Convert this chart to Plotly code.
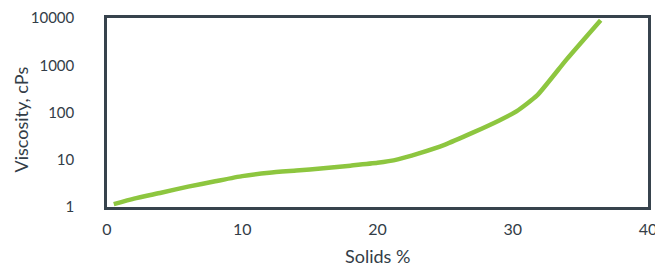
import plotly.graph_objects as go

solids = [0.5, 2, 4, 6, 8, 10, 12, 14, 16, 18, 20, 21.5, 23, 25, 27, 29, 30.3, 31.8, 34, 36.5]
viscosity = [1.15, 1.5, 2.0, 2.7, 3.5, 4.5, 5.3, 5.9, 6.6, 7.5, 8.6, 10.2, 13.5, 21, 37, 68, 107, 230, 1350, 9000]

x_ticks = [0, 10, 20, 30, 40]
y_ticks = [1, 10, 100, 1000, 10000]
y_tick_labels = ["1", "10", "100", "1000", "10000"]
x_title = "Solids %"
y_title = "Viscosity, cPs"

text_color = "#333d47"
frame_color = "#37434d"
font_family = "Lato, 'Open Sans', sans-serif"

fig = go.Figure()
fig.add_trace(go.Scatter(
    x=solids, y=viscosity, mode="lines",
    line=dict(color="#8dc63f", width=4.5, shape="spline", smoothing=0.5),
    showlegend=False, hoverinfo="skip",
))

# page body has an 8px default margin, so the figure is 8px smaller and shifted
fig.update_layout(
    width=655, height=260,
    margin=dict(l=99, r=15, t=10, b=61),
    paper_bgcolor="white", plot_bgcolor="white",
    font=dict(family=font_family, color=text_color, size=15),
    xaxis=dict(
        range=[0, 40], tickvals=x_ticks, showgrid=False, zeroline=False,
        showline=True, mirror=True, linecolor=frame_color, linewidth=2.5,
        ticks="", ticklabelstandoff=6, automargin=False,
        tickfont=dict(size=16, color=text_color),
    ),
    yaxis=dict(
        type="log", range=[0, 4], tickvals=y_ticks, ticktext=y_tick_labels,
        showgrid=False, zeroline=False,
        showline=True, mirror=True, linecolor=frame_color, linewidth=2.5,
        ticks="", ticklabelstandoff=27, automargin=False,
        tickfont=dict(size=15, color=text_color),
    ),
    annotations=[
        dict(text=x_title, xref="paper", yref="paper", x=0.5, y=0,
             xanchor="center", yanchor="middle", yshift=-49, showarrow=False,
             font=dict(size=18, color=text_color)),
        dict(text=y_title, xref="paper", yref="paper", x=0, y=0.5,
             xanchor="center", yanchor="middle", xshift=-87, yshift=-7,
             textangle=-90, showarrow=False,
             font=dict(size=18, color=text_color)),
    ],
)

fig.write_html("out.html")
